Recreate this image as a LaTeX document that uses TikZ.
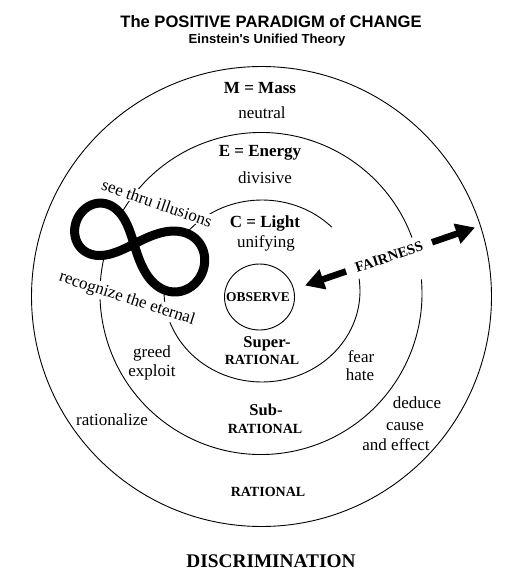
\documentclass[tikz,border=0pt]{standalone}
\usepackage{fontspec}
\setmainfont{Liberation Serif}
\newfontfamily\titlefont{Liberation Sans}
\usetikzlibrary{arrows.meta}
\begin{document}
\begin{tikzpicture}[x=1pt,y=-1pt,
  ring/.style={line width=0.9pt},
  lbl/.style={font=\fontsize{17}{19}\selectfont, inner sep=1pt},
  blbl/.style={font=\fontsize{17}{19}\selectfont\bfseries, inner sep=1pt},
  zone/.style={font=\fontsize{14}{16}\selectfont\bfseries, inner sep=1pt},
  zonehead/.style={font=\fontsize{16.5}{18}\selectfont\bfseries, inner sep=1pt},
  fatarrow/.style={line width=6.5pt, -{Triangle[length=19pt,width=20pt]}}
]
\useasboundingbox (0,0) rectangle (528,575);
% centres
\coordinate (c1) at (261.5,296.5);
\coordinate (c2) at (261,293.5);
\coordinate (c3) at (262,291);
\coordinate (c4) at (259.5,297);
% rings
\draw[ring] (c1) circle[radius=230pt];
\draw[ring] (c2) ++(14:161pt) arc[start angle=14, end angle=365, radius=161pt];
\draw[ring] (c3) ++(44.6:98pt and 91pt) arc[start angle=44.6, end angle=368.8, x radius=98pt, y radius=91pt];
\draw[ring] (c4) ellipse[x radius=35pt, y radius=33pt];
% titles
\node[font=\titlefont\bfseries\fontsize{16.6}{18}\selectfont, inner sep=0pt] (title) at (271,22) {The POSITIVE PARADIGM of CHANGE};
\node[font=\titlefont\bfseries\fontsize{13.1}{15}\selectfont, inner sep=0pt] (subtitle) at (267,40) {Einstein's Unified Theory};
% infinity
\begin{scope}[shift={(134,244)}, rotate=-23]
\draw[line width=9pt, fill=white, line join=round] plot[domain=0:360, samples=160, smooth, variable=\t]
  ({(68+6*cos(\t))*cos(\t)/(1+sin(\t)^2)}, {1.18*(68+6*cos(\t))*sin(\t)*cos(\t)/(1+sin(\t)^2)}) -- cycle;
\end{scope}
% labels
\node[blbl] (mass) at (260,88) {M = Mass};
\node[lbl] (neutral) at (262,113) {neutral};
\node[blbl] (energy) at (260,153) {E = Energy};
\node[lbl] (divisive) at (265,178) {divisive};
\node[blbl] (light) at (265,223) {C = Light};
\node[lbl] (unifying) at (266,243) {unifying};
\node[zone, font=\fontsize{13.4}{15}\selectfont\bfseries] (observe) at (258,297) {OBSERVE};
\node[zonehead] (super) at (267,344) {Super-};
\node[zone] (superr) at (262,360) {RATIONAL};
\node[zonehead] (sub) at (266,410) {Sub-};
\node[zone] (subr) at (265,429) {RATIONAL};
\node[zone] (rational) at (268,492) {RATIONAL};
\node[font=\fontsize{19.3}{21}\selectfont\bfseries, inner sep=0pt] (discr) at (271,561) {DISCRIMINATION};
\node[lbl] (greed) at (152,353) {greed};
\node[lbl] (exploit) at (152,372) {exploit};
\node[lbl] (rationalize) at (112,420) {rationalize};
\node[lbl] (fear) at (361,357) {fear};
\node[lbl] (hate) at (360,375) {hate};
\node[lbl] (deduce) at (417,403) {deduce};
\node[lbl] (cause) at (405,427) {cause};
\node[lbl] (effect) at (396,445) {and effect};
\node[lbl, fill=white, rotate=-19] (see) at (157,203) {see thru illusions};
\node[lbl, fill=white, rotate=-18] (eternal) at (127,299) {recognize the eternal};
% fairness arrow
\node[font=\fontsize{14.5}{16}\selectfont\bfseries, fill=white, inner xsep=3pt, inner ysep=6pt, rotate=18.7] (fair) at (389,257) {FAIRNESS};
\coordinate (ls) at (346,271.4);
\coordinate (lt) at (305,285.5);
\coordinate (rs) at (432,242.3);
\coordinate (rt) at (475,227.5);
\draw[fatarrow] (ls) -- (lt);
\draw[fatarrow] (rs) -- (rt);
\end{tikzpicture}
\end{document}
